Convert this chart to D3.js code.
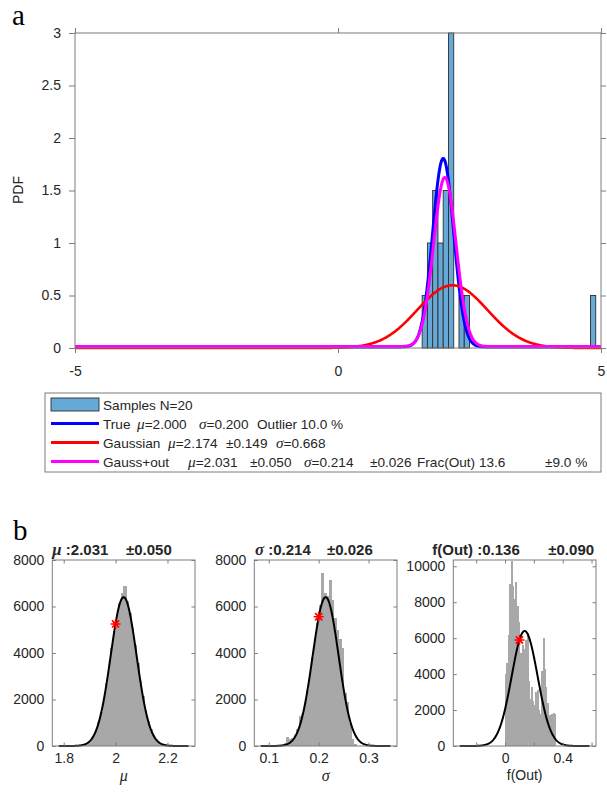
<!DOCTYPE html>
<html>
<head>
<meta charset="utf-8">
<script src="https://cdn.jsdelivr.net/npm/d3@7/dist/d3.min.js"></script>
<style>
body{margin:0;background:#fff;}
</style>
</head>
<body>
<svg id="chart" width="607" height="792" font-family="'Liberation Sans',Arial,Helvetica,sans-serif" fill="#262626"></svg>
<script>
// ================= DATA =================
// panel a : sample histogram (PDF-normalised), bins of width 0.1
const sampleBinStart = [1.6, 1.7, 1.8, 1.9, 2.0, 2.1, 2.3, 2.4, 4.8];
const samplePdf      = [0.5, 1.0, 1.5, 1.0, 1.5, 3.0, 0.5, 0.5, 0.5];
const sampleBinWidth = 0.1;
const topXTicks = [-5, 0, 5];
const topYTicks = [0, 0.5, 1, 1.5, 2, 2.5, 3];

// model curves (parameters as printed in the legend)
const modelMu      = [2.000, 2.174, 2.031];
const modelSigma   = [0.200, 0.668, 0.214];
const modelOutFrac = [0.100, 0.000, 0.136];
const outlierRange = [-5, 5];

// legend texts
const legendTexts = [
  ["Samples N=20"],
  ["True", "μ=2.000", "σ=0.200", "Outlier 10.0 %"],
  ["Gaussian", "μ=2.174", "±0.149", "σ=0.668"],
  ["Gauss+out", "μ=2.031", "±0.050", "σ=0.214", "±0.026", "Frac(Out) 13.6", "±9.0 %"]
];

// panel b : posterior sample histograms
const muBinStart = 1.78, muBinWidth = 0.01;
const muCounts = [3,5,4,6,5,8,12,18,30,52,95,165,270,445,690,1030,1470,2050,2700,3450,
                  4230,4960,5620,6150,6600,6880,6250,5720,5060,4330,3560,2800,2130,1550,1090,
                  730,470,290,175,100,55,30,16,9,6,5,3,2,1,1];
const sigmaBinStart = 0.12, sigmaBinWidth = 0.005;
const sigmaCounts = [10,40,150,380,300,330,480,720,1300,1380,1830,2400,3080,3820,4580,5300,
                     6050,7450,6600,6450,7150,6300,5500,5000,4600,4200,2300,1900,1000,320,70,20,8,3];
const foutBinStart = 0.0, foutBinWidth = 0.01;
const foutCounts = [4000,4600,6200,9000,10300,8900,8200,9100,7800,6900,5200,4500,5600,5400,5900,
                    6300,3600,2600,3300,2500,2300,3000,3100,2000,1800,4200,6000,4300,3300,2400,
                    1700,1750,1800,1850,1800];

const fitMu    = [2.031, 0.214, 0.136];
const fitSigma = [0.050, 0.026, 0.090];
const fitPeak  = [6400, 6400, 6400];
const trueVal  = [2.000, 0.200, 0.100];
const starY    = [5250, 5560, 5900];

const paramLabel  = ["μ", "σ", "f(Out)"];
const titleValue  = ["μ :2.031", "σ :0.214", "f(Out) :0.136"];
const titleErr    = ["±0.050", "±0.026", "±0.090"];
const panelXLim   = [[1.756, 2.306], [0.071, 0.357], [-0.359, 0.631]];
const panelYMax   = [8000, 8000, 10350];
const panelXTicks = [[1.8, 2.0, 2.2], [0.1, 0.2, 0.3], [-0.2, 0, 0.2, 0.4, 0.6]];
const panelXTickLabels = [["1.8","2","2.2"], ["0.1","0.2","0.3"], ["","0","","0.4",""]];
const panelYTicks = [[0,2000,4000,6000,8000],[0,2000,4000,6000,8000],[0,2000,4000,6000,8000,10000]];

// ================= LAYOUT / STYLE =================
const SANS = "'Liberation Sans',Arial,Helvetica,sans-serif";
const SERIF = "'Liberation Serif','DejaVu Serif',serif";
const AX = "#7d7d7d", TXT = "#262626";
const FS = 14, LFS = 13.6;
const modelColors = ["#0000ff", "#ff0000", "#ff00ff"];
const modelWidths = [3, 2.6, 3];
const legendX = [[103], [103, 137, 199, 257], [103, 168, 226, 276], [103, 188, 250, 304, 370, 417, 545]];
const legendRowY = [404.5, 423.5, 442.5, 461.5];
const panelLeft = [52.3, 254.3, 453.3], panelW = 142.7, panelTop = 560, panelBot = 746;
const titleX = [[52.3, 126], [255, 327], [432.3, 548.3]];

const svg = d3.select("#chart");

function richText(parent, x, y, str, size, opts = {}) {
  const t = parent.append("text").attr("x", x).attr("y", y).attr("font-size", size)
    .attr("xml:space", "preserve").style("white-space", "pre").attr("fill", TXT);
  if (opts.bold) t.attr("font-weight", "bold");
  if (opts.anchor) t.attr("text-anchor", opts.anchor);
  str.split(/([μσ])/).forEach(p => {
    if (!p) return;
    const s = t.append("tspan").text(p);
    if (p === "μ" || p === "σ") s.attr("font-family", SERIF).attr("font-style", "italic").attr("font-size", size * 1.12);
  });
  return t;
}
function styleAxis(g) {
  g.selectAll(".domain").remove();
  g.selectAll(".tick line").attr("stroke", AX);
  g.selectAll(".tick text").attr("fill", TXT).attr("font-size", FS).attr("font-family", SANS);
}

// ================= PANEL a =================
const xT = d3.scaleLinear().domain([-5, 5]).range([75, 601]);
const yT = d3.scaleLinear().domain([0, 3]).range([348, 33]);
const gA = svg.append("g");

gA.append("g").selectAll("rect").data(sampleBinStart).join("rect")
  .attr("x", d => xT(d))
  .attr("width", d => xT(d + sampleBinWidth) - xT(d))
  .attr("y", (d, i) => yT(samplePdf[i]))
  .attr("height", (d, i) => yT(0) - yT(samplePdf[i]))
  .attr("fill", "#66a9d6").attr("stroke", "#2e2e2e").attr("stroke-width", 0.9);

const gridX = d3.range(outlierRange[0], outlierRange[1] + 1e-9, 0.01);
const normal = (x, m, s) => Math.exp(-0.5 * ((x - m) / s) ** 2) / (s * Math.sqrt(2 * Math.PI));
modelMu.forEach((m, i) => {
  const f = modelOutFrac[i];
  const pts = gridX.map(x => [x, (1 - f) * normal(x, m, modelSigma[i]) + f / (outlierRange[1] - outlierRange[0])]);
  gA.append("path").datum(pts)
    .attr("d", d3.line().x(d => xT(d[0])).y(d => yT(d[1])))
    .attr("fill", "none").attr("stroke", modelColors[i]).attr("stroke-width", modelWidths[i])
    .attr("stroke-linejoin", "round");
});

// frame
gA.append("rect").attr("x", xT(-5)).attr("y", yT(3)).attr("width", xT(5) - xT(-5)).attr("height", yT(0) - yT(3))
  .attr("fill", "none").attr("stroke", AX).attr("stroke-width", 1);
const fmt = d => String(d);
gA.append("g").attr("transform", `translate(${xT(-5)},0)`)
  .call(d3.axisLeft(yT).tickValues(topYTicks).tickFormat(fmt).tickSize(6).tickPadding(8)).call(styleAxis);
gA.append("g").attr("transform", `translate(${xT(5)},0)`)
  .call(d3.axisRight(yT).tickValues(topYTicks).tickFormat("").tickSize(5)).call(styleAxis);
gA.append("g").attr("transform", `translate(0,${yT(0)})`)
  .call(d3.axisBottom(xT).tickValues(topXTicks).tickFormat(fmt).tickSize(5).tickPadding(13)).call(styleAxis);
gA.append("g").attr("transform", `translate(0,${yT(3)})`)
  .call(d3.axisTop(xT).tickValues(topXTicks).tickFormat("").tickSize(5)).call(styleAxis);

svg.append("text").attr("transform", "translate(23,190) rotate(-90)").attr("text-anchor", "middle")
  .attr("font-size", FS).attr("fill", TXT).text("PDF");
svg.append("text").attr("x", 12).attr("y", 25).attr("font-family", SERIF).attr("font-size", 29)
  .attr("fill", "#000").text("a");

// legend
const gL = svg.append("g");
gL.append("rect").attr("x", 45).attr("y", 393).attr("width", 556).attr("height", 79)
  .attr("fill", "#fff").attr("stroke", AX).attr("stroke-width", 1);
gL.append("rect").attr("x", 51).attr("y", legendRowY[0] - 6.5).attr("width", 48).attr("height", 13)
  .attr("fill", "#66a9d6").attr("stroke", "#2e2e2e").attr("stroke-width", 0.9);
[1, 2, 3].forEach(r => {
  gL.append("line").attr("x1", 51).attr("x2", 99).attr("y1", legendRowY[r]).attr("y2", legendRowY[r])
    .attr("stroke", modelColors[r - 1]).attr("stroke-width", 3);
});
legendTexts.forEach((row, r) => {
  row.forEach((s, k) => richText(gL, legendX[r][k], legendRowY[r] + 5, s, LFS));
});

// ================= PANEL b =================
svg.append("text").attr("x", 13).attr("y", 540).attr("font-family", SERIF).attr("font-size", 29)
  .attr("fill", "#000").text("b");

const hists = [
  {start: muBinStart, w: muBinWidth, c: muCounts},
  {start: sigmaBinStart, w: sigmaBinWidth, c: sigmaCounts},
  {start: foutBinStart, w: foutBinWidth, c: foutCounts}
];

hists.forEach((h, i) => {
  const x = d3.scaleLinear().domain(panelXLim[i]).range([panelLeft[i], panelLeft[i] + panelW]);
  const y = d3.scaleLinear().domain([0, panelYMax[i]]).range([panelBot, panelTop]);
  const g = svg.append("g");

  g.append("g").attr("shape-rendering", "crispEdges").selectAll("rect").data(h.c).join("rect")
    .attr("x", (d, k) => x(h.start + k * h.w))
    .attr("width", (d, k) => x(h.start + (k + 1) * h.w) - x(h.start + k * h.w) + 0.6)
    .attr("y", d => y(d))
    .attr("height", d => y(0) - y(d))
    .attr("fill", "#a8a8a8");

  const m = fitMu[i], s = fitSigma[i];
  const xs = d3.range(m - 5 * s, m + 5 * s + 1e-9, s / 40);
  g.append("path").datum(xs.map(v => [v, fitPeak[i] * Math.exp(-0.5 * ((v - m) / s) ** 2)]))
    .attr("d", d3.line().x(d => x(d[0])).y(d => y(d[1])))
    .attr("fill", "none").attr("stroke", "#000").attr("stroke-width", 2);

  // red asterisk at true value
  const sx = x(trueVal[i]), sy = y(starY[i]);
  g.append("path")
    .attr("d", `M${sx-5},${sy}H${sx+5}M${sx},${sy-5}V${sy+5}M${sx-3.6},${sy-3.6}L${sx+3.6},${sy+3.6}M${sx-3.6},${sy+3.6}L${sx+3.6},${sy-3.6}`)
    .attr("stroke", "#ff0000").attr("stroke-width", 1.6).attr("fill", "none");

  // frame and ticks (inward)
  g.append("rect").attr("x", panelLeft[i]).attr("y", panelTop).attr("width", panelW).attr("height", panelBot - panelTop)
    .attr("fill", "none").attr("stroke", AX).attr("stroke-width", 1);
  g.append("g").attr("transform", `translate(${panelLeft[i]},0)`)
    .call(d3.axisLeft(y).tickValues(panelYTicks[i]).tickFormat(fmt).tickSize(-3.5).tickPadding(8)).call(styleAxis);
  g.append("g").attr("transform", `translate(${panelLeft[i] + panelW},0)`)
    .call(d3.axisRight(y).tickValues(panelYTicks[i]).tickFormat("").tickSize(-3.5)).call(styleAxis);
  g.append("g").attr("transform", `translate(0,${panelBot})`)
    .call(d3.axisBottom(x).tickValues(panelXTicks[i]).tickFormat((d, k) => panelXTickLabels[i][k]).tickSize(-3.5).tickPadding(7)).call(styleAxis);
  g.append("g").attr("transform", `translate(0,${panelTop})`)
    .call(d3.axisTop(x).tickValues(panelXTicks[i]).tickFormat("").tickSize(-3.5)).call(styleAxis);

  // titles
  richText(svg, titleX[i][0], 555, titleValue[i], 15, {bold: true});
  richText(svg, titleX[i][1], 555, titleErr[i], 15, {bold: true});

  // x label
  const cx = panelLeft[i] + panelW / 2;
  if (paramLabel[i] === "f(Out)") {
    svg.append("text").attr("x", cx).attr("y", 780).attr("text-anchor", "middle").attr("font-size", FS)
      .attr("fill", TXT).text(paramLabel[i]);
  } else {
    svg.append("text").attr("x", cx).attr("y", 781).attr("text-anchor", "middle").attr("fill", TXT)
      .attr("font-family", SERIF).attr("font-style", "italic").attr("font-size", 16).text(paramLabel[i]);
  }
});
</script>
</body>
</html>
